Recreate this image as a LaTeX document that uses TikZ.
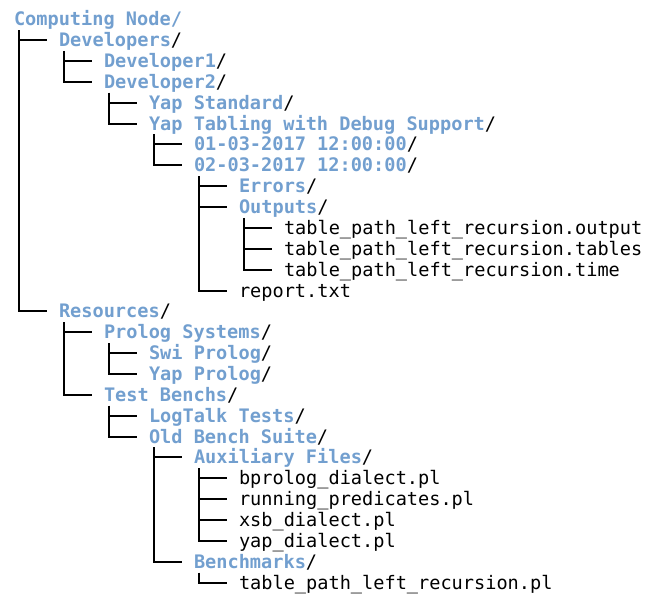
\documentclass[tikz,border=0pt]{standalone}
\usepackage{fontspec}
\setmainfont{DejaVu Sans Mono}
\definecolor{dirblue}{HTML}{729FCF}
\newcommand{\Dir}[1]{{\bfseries\color{dirblue}#1}/}
\tikzset{
  entry/.style={anchor=west,inner sep=0pt,outer sep=0pt,text height=16pt,text depth=3pt,
    font=\fontsize{18.6}{20.9}\selectfont},
  treeline/.style={line width=2pt,black}
}
\begin{document}
\begin{tikzpicture}[x=1pt,y=-1pt]
\useasboundingbox (0,0) rectangle (645,594);
\def\rowy#1{19.2+(#1-1)*20.87}
\node[entry] (n1) at (14,{\rowy{1}}) {{\bfseries\color{dirblue}Computing Node/}};
\node[entry] (n2) at (59,{\rowy{2}}) {\Dir{Developers}};
\node[entry] (n3) at (104,{\rowy{3}}) {\Dir{Developer1}};
\node[entry] (n4) at (104,{\rowy{4}}) {\Dir{Developer2}};
\node[entry] (n5) at (149,{\rowy{5}}) {\Dir{Yap Standard}};
\node[entry] (n6) at (149,{\rowy{6}}) {\Dir{Yap Tabling with Debug Support}};
\node[entry] (n7) at (194,{\rowy{7}}) {\Dir{01-03-2017 12:00:00}};
\node[entry] (n8) at (194,{\rowy{8}}) {\Dir{02-03-2017 12:00:00}};
\node[entry] (n9) at (239,{\rowy{9}}) {\Dir{Errors}};
\node[entry] (n10) at (239,{\rowy{10}}) {\Dir{Outputs}};
\node[entry] (n11) at (284,{\rowy{11}}) {table\_path\_left\_recursion.output};
\node[entry] (n12) at (284,{\rowy{12}}) {table\_path\_left\_recursion.tables};
\node[entry] (n13) at (284,{\rowy{13}}) {table\_path\_left\_recursion.time};
\node[entry] (n14) at (239,{\rowy{14}}) {report.txt};
\node[entry] (n15) at (59,{\rowy{15}}) {\Dir{Resources}};
\node[entry] (n16) at (104,{\rowy{16}}) {\Dir{Prolog Systems}};
\node[entry] (n17) at (149,{\rowy{17}}) {\Dir{Swi Prolog}};
\node[entry] (n18) at (149,{\rowy{18}}) {\Dir{Yap Prolog}};
\node[entry] (n19) at (104,{\rowy{19}}) {\Dir{Test Benchs}};
\node[entry] (n20) at (149,{\rowy{20}}) {\Dir{LogTalk Tests}};
\node[entry] (n21) at (149,{\rowy{21}}) {\Dir{Old Bench Suite}};
\node[entry] (n22) at (194,{\rowy{22}}) {\Dir{Auxiliary Files}};
\node[entry] (n23) at (239,{\rowy{23}}) {bprolog\_dialect.pl};
\node[entry] (n24) at (239,{\rowy{24}}) {running\_predicates.pl};
\node[entry] (n25) at (239,{\rowy{25}}) {xsb\_dialect.pl};
\node[entry] (n26) at (239,{\rowy{26}}) {yap\_dialect.pl};
\node[entry] (n27) at (194,{\rowy{27}}) {\Dir{Benchmarks}};
\node[entry] (n28) at (239,{\rowy{28}}) {table\_path\_left\_recursion.pl};
% vertical trunks: first child to last child of each folder
\foreach \f/\l in {n2/n15,n3/n4,n5/n6,n7/n8,n9/n14,n11/n13,n16/n19,n17/n18,n20/n21,n22/n27,n23/n26,n28/n28}{
  \draw[treeline] ([xshift=-40pt,yshift=10pt]\f.west) -- ([xshift=-40pt]\l.west);
}
% horizontal branches
\foreach \c in {n2,n3,n4,n5,n6,n7,n8,n9,n10,n11,n12,n13,n14,n15,n16,n17,n18,n19,n20,n21,n22,n23,n24,n25,n26,n27,n28}{
  \draw[treeline] ([xshift=-41pt]\c.west) -- ([xshift=-12pt]\c.west);
}
\end{tikzpicture}
\end{document}
